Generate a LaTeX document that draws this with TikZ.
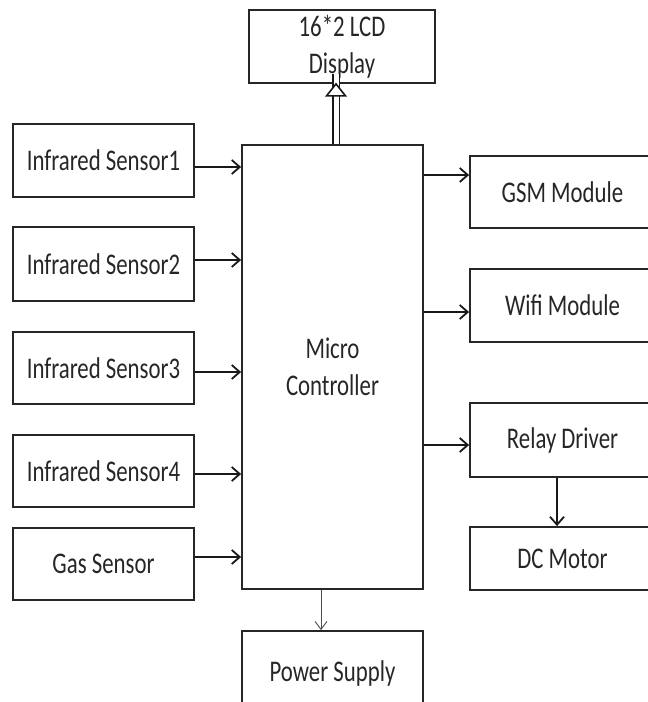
\documentclass[tikz,border=0pt]{standalone}
\usepackage{fontspec}
\setmainfont[FakeStretch=0.76]{Carlito}
\usetikzlibrary{arrows.meta}
\begin{document}
\begin{tikzpicture}[x=1pt,y=-1pt,
  blk/.style={draw=black!85, line width=1.8pt, inner sep=0pt, align=center,
    font=\fontsize{30}{37}\selectfont, text=black!85},
  conn/.style={draw=black!90, line width=1.8pt, -{Straight Barb[length=8pt,width=14pt,line width=1.8pt]}},
  thinconn/.style={draw=black!70, line width=0.9pt, -{Straight Barb[length=8pt,width=12pt,line width=0.9pt]}}
]
\useasboundingbox (0,0) rectangle (648,702);
\clip (0,0) rectangle (648,702);
% central
\node[blk, minimum width=181pt, minimum height=444pt] (mc) at (332.5,367) {Micro\\Controller};
\node[blk, minimum width=186pt, minimum height=73pt] (lcd) at (342,46.5) {16*2 LCD\\Display};
\node[blk, minimum width=181pt, minimum height=80pt, text depth=0pt] (ps) at (332.5,671) {Power Supply};
% left
\node[blk, minimum width=181pt, minimum height=73pt] (s1) at (103.5,160.5) {Infrared Sensor1};
\node[blk, minimum width=181pt, minimum height=74pt] (s2) at (103.5,264) {Infrared Sensor2};
\node[blk, minimum width=181pt, minimum height=72pt] (s3) at (103.5,368) {Infrared Sensor3};
\node[blk, minimum width=181pt, minimum height=72pt] (s4) at (103.5,471) {Infrared Sensor4};
\node[blk, minimum width=181pt, minimum height=72pt] (gas) at (103.5,564) {Gas Sensor};
% right
\node[blk, minimum width=185pt, minimum height=72pt] (gsm) at (562.5,192) {GSM Module};
\node[blk, minimum width=185pt, minimum height=73pt] (wifi) at (562.5,305.5) {Wifi Module};
\node[blk, minimum width=185pt, minimum height=74pt] (relay) at (562.5,440) {Relay Driver};
\node[blk, minimum width=185pt, minimum height=63pt] (dc) at (562.5,558.5) {DC Motor};
% left arrows
\draw[conn] ([yshift=-6.5pt]s1.east) -- ([yshift=-6.5pt]s1.east -| mc.west);
\draw[conn] ([yshift=4pt]s2.east) -- ([yshift=4pt]s2.east -| mc.west);
\draw[conn] ([yshift=-4pt]s3.east) -- ([yshift=-4pt]s3.east -| mc.west);
\draw[conn] ([yshift=-3pt]s4.east) -- ([yshift=-3pt]s4.east -| mc.west);
\draw[conn] ([yshift=7pt]gas.east) -- ([yshift=7pt]gas.east -| mc.west);
% right arrows
\draw[conn] ([yshift=17pt]gsm.west -| mc.east) -- ([yshift=17pt]gsm.west);
\draw[conn] ([yshift=-6.5pt]wifi.west -| mc.east) -- ([yshift=-6.5pt]wifi.west);
\draw[conn] ([yshift=-5pt]relay.west -| mc.east) -- ([yshift=-5pt]relay.west);
\draw[conn] ([xshift=-5.5pt]relay.south) -- ([xshift=-5.5pt]dc.north);
% power
\draw[thinconn] ([xshift=-11.5pt]mc.south) -- ([xshift=-11.5pt]mc.south |- ps.north);
% double arrow to LCD
\draw[draw=black!90, line width=1.5pt, double distance=5pt]
  ([xshift=3.5pt]mc.north) -- ([xshift=3.5pt,yshift=10pt]mc.north |- lcd.south);
\draw[draw=black!90, line width=1.6pt, fill=white, line join=miter]
  ([xshift=3.5pt]mc.north |- lcd.south) -- ++(-9.5,12) -- ++(19,0) -- cycle;
\end{tikzpicture}
\end{document}
